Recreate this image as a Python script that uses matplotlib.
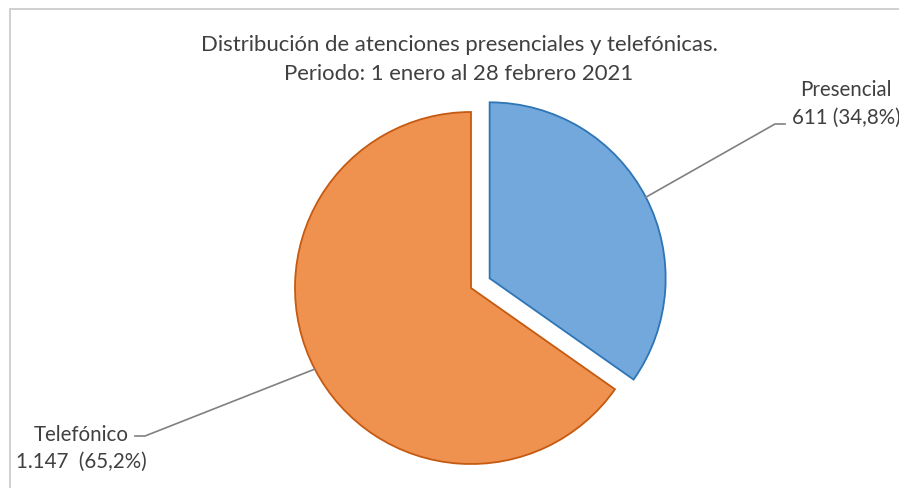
import numpy as np
import matplotlib.pyplot as plt
from matplotlib.patches import Rectangle

# data
labels = ['Presencial', 'Telefónico']
counts = [611, 1147]
pct_text = ['611 (34,8%)', '1.147  (65,2%)']
colors = ['#72A8DB', '#EF914F']
edges = ['#2E75B6', '#C55A11']

W, H = 899, 489
plt.rcParams['font.family'] = ['Lato', 'DejaVu Sans']

fig = plt.figure(figsize=(W / 100, H / 100), dpi=100)
ax = fig.add_axes([0, 0, 1, 1])
ax.set_xlim(0, W)
ax.set_ylim(0, H)
ax.set_aspect('equal')
ax.axis('off')

# light frame like the excel chart area
fig.patches.append(Rectangle((10 / W, -0.1), 1.2, (H - 10) / H + 0.1, transform=fig.transFigure,
                             fill=False, edgecolor='#C8C8C8', lw=1.2))

center = (471, H - 289)
radius = 176
wedges, _ = ax.pie(counts, colors=colors, startangle=90, counterclock=False,
                   explode=[21, 0], radius=radius, center=center,
                   wedgeprops=dict(linewidth=1.3))
for w, ec in zip(wedges, edges):
    w.set_edgecolor(ec)

ax.set_xlim(0, W)
ax.set_ylim(0, H)

ax.text(459, H - 45, 'Distribución de atenciones presenciales y telefónicas.',
        ha='center', va='center', fontsize=15.9, color='#404040')
ax.text(459, H - 74, 'Periodo: 1 enero al 28 febrero 2021',
        ha='center', va='center', fontsize=15.9, color='#404040')

# leader lines from arc midpoints to labels
def arc_point(w):
    th = np.deg2rad((w.theta1 + w.theta2) / 2)
    cx, cy = w.center
    return cx + w.r * np.cos(th), cy + w.r * np.sin(th)

lab_fs = 14.8

# Presencial
px, py = arc_point(wedges[0])
ax.plot([px, 775, 785], [py, H - 125, H - 125], color='#808080', lw=1.2)
ax.text(846, H - 90, labels[0], ha='center', va='center', fontsize=lab_fs, color='#404040')
ax.text(846, H - 118, pct_text[0], ha='center', va='center', fontsize=lab_fs, color='#404040')

# Telefónico
tx, ty = arc_point(wedges[1])
ax.plot([tx, 145, 135], [ty, H - 437, H - 437], color='#808080', lw=1.2)
ax.text(81, H - 435, labels[1], ha='center', va='center', fontsize=lab_fs, color='#404040')
ax.text(81, H - 462, pct_text[1], ha='center', va='center', fontsize=lab_fs, color='#404040')

fig.savefig('out.png', dpi=100)
